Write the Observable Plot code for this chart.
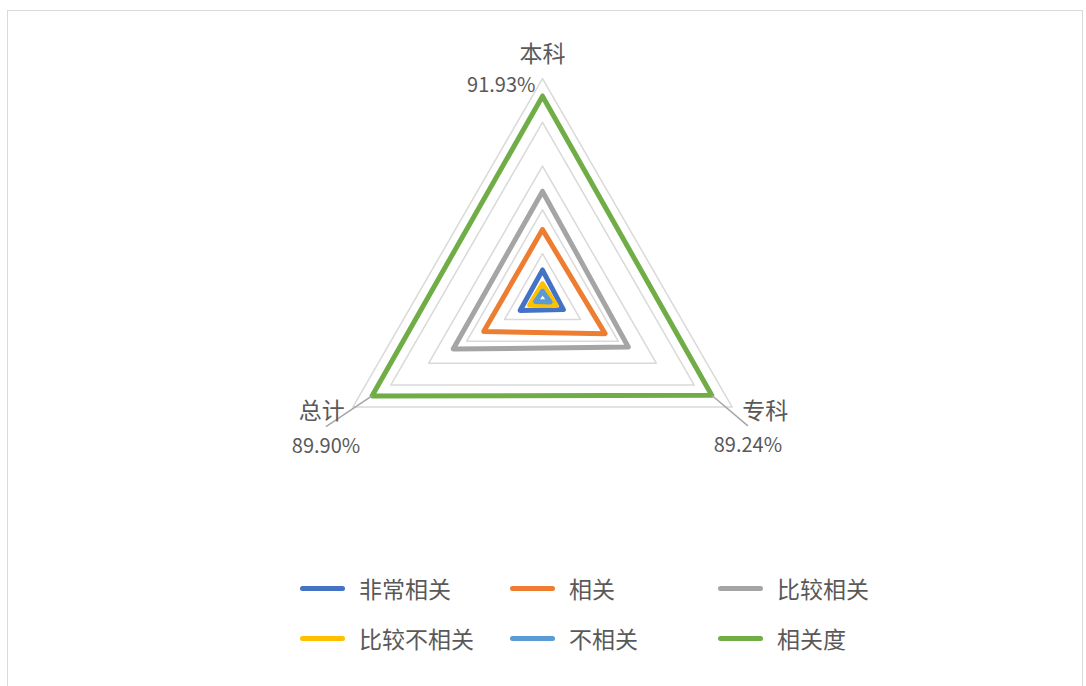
<!DOCTYPE html>
<html>
<head>
<meta charset="utf-8">
<script src="https://cdn.jsdelivr.net/npm/d3@7"></script>
<script src="https://cdn.jsdelivr.net/npm/@observablehq/plot@0.6"></script>
<style>
  html, body { margin: 0; padding: 0; background: #fff; }
  body { width: 1086px; height: 686px; position: relative; overflow: hidden;
         font-family: "Noto Sans CJK SC", "Noto Sans", sans-serif; color: #595959; }
  #frame { position: absolute; left: 7px; top: 10px; width: 1076px; height: 690px;
           border: 1.5px solid #d9d9d9; box-sizing: border-box; }
  #chart { position: absolute; left: 0; top: 0; }
  #legend { position: absolute; left: 0; top: 0; width: 1086px; height: 686px; pointer-events: none; }
  .item { position: absolute; display: flex; align-items: center; font-size: 23px; color: #595959; }
  .sw { width: 45px; height: 5px; border-radius: 3px; margin-right: 14px; }
</style>
</head>
<body>
<div id="frame"></div>
<div id="chart"></div>
<div id="legend"></div>
<script>
// ---- data ----
const categories = ["本科", "专科", "总计"];
const seriesNames = ["非常相关", "相关", "比较相关", "比较不相关", "不相关", "相关度"];
const veryRelevant     = [0.125, 0.110, 0.118];
const relevant         = [0.310, 0.330, 0.310];
const fairlyRelevant   = [0.4843, 0.4524, 0.471];
const fairlyIrrelevant = [0.062, 0.072, 0.068];
const irrelevant       = [0.028, 0.040, 0.036];
const relevance        = [0.9193, 0.8924, 0.8990];
const gridTicks = [0.2, 0.4, 0.6, 0.8, 1.0];
const seriesColors = ["#4472C4", "#ED7D31", "#A5A5A5", "#FFC000", "#5B9BD5", "#70AD47"];

const seriesValues = [veryRelevant, relevant, fairlyRelevant, fairlyIrrelevant, irrelevant, relevance];

// angle of each category axis (本科 top, 专科 lower right, 总计 lower left)
const angle = i => (90 - 120 * i) * Math.PI / 180;
const pt = (r, i) => ({x: r * Math.cos(angle(i)), y: r * Math.sin(angle(i))});

const polygon = (vals, name) => {
  const pts = vals.map((r, i) => ({...pt(r, i), series: name}));
  pts.push({...pts[0]});
  return pts;
};

const gridData = gridTicks.flatMap(t => polygon(categories.map(() => t), "g" + t));
const seriesData = seriesNames.flatMap((name, k) => polygon(seriesValues[k], name));

// label data
const catLabels = categories.map((c, i) => ({...pt(1, i), label: c, i}));
const valPts = relevance.map((r, i) => ({...pt(r, i), label: d3.format(".2%")(r), i}));
// leader line ends (for lower labels), slightly outward from the vertices
const leaderEnd = i => {
  const p = pt(relevance[i], i);
  return {x1: p.x, y1: p.y, x2: p.x + (i === 2 ? -0.21 : 0.165), y2: p.y - 0.14};
};
const leaders = [1, 2].map(leaderEnd);

const fam = "'Noto Sans CJK SC', 'Noto Sans', sans-serif";

const chart = Plot.plot({
  width: 1086,
  height: 560,
  margin: 0,
  x: {domain: [-1, 1], range: [542 - 219, 542 + 219], axis: null},
  y: {domain: [-1, 1], range: [297 + 219, 297 - 219], axis: null},
  style: {fontFamily: fam, background: "transparent"},
  marks: [
    Plot.line(gridData, {x: "x", y: "y", z: "series", stroke: "#d9d9d9", strokeWidth: 1.5}),
    Plot.line(seriesData, {x: "x", y: "y", z: "series",
      stroke: "series", strokeWidth: 5, strokeLinejoin: "round", strokeLinecap: "round"}),
    Plot.link(leaders, {x1: "x1", y1: "y1", x2: "x2", y2: "y2", stroke: "#a6a6a6", strokeWidth: 1.5}),
    // category labels
    Plot.text(catLabels.filter(d => d.i === 0), {x: "x", y: "y", text: "label", dy: -24, fontSize: 23, fill: "#595959"}),
    Plot.text(catLabels.filter(d => d.i === 1), {x: "x", y: "y", text: "label", dx: 33, dy: 5, fontSize: 23, fill: "#595959"}),
    Plot.text(catLabels.filter(d => d.i === 2), {x: "x", y: "y", text: "label", dx: -31, dy: 5, fontSize: 23, fill: "#595959"}),
    // data labels
    Plot.text(valPts.filter(d => d.i === 0), {x: "x", y: "y", text: "label", textAnchor: "end", dx: -7, dy: -11, fontSize: 20, fill: "#595959"}),
    Plot.text(valPts.filter(d => d.i > 0).map(d => ({...d, ...(({x2, y2}) => ({x: x2, y: y2}))(leaderEnd(d.i))})),
      {x: "x", y: "y", text: "label", dy: 20, fontSize: 20, fill: "#595959"})
  ],
  color: {domain: seriesNames, range: seriesColors}
});
document.getElementById("chart").appendChild(chart);

// legend
const legend = document.getElementById("legend");
const colX = [300, 510, 718];
const rowY = [588, 638];
seriesNames.forEach((name, k) => {
  const el = document.createElement("div");
  el.className = "item";
  el.style.left = colX[k % 3] + "px";
  el.style.top = (rowY[Math.floor(k / 3)] - 16) + "px";
  el.style.height = "32px";
  const sw = document.createElement("span");
  sw.className = "sw";
  sw.style.background = seriesColors[k];
  const tx = document.createElement("span");
  tx.textContent = name;
  el.appendChild(sw); el.appendChild(tx);
  legend.appendChild(el);
});
</script>
</body>
</html>
